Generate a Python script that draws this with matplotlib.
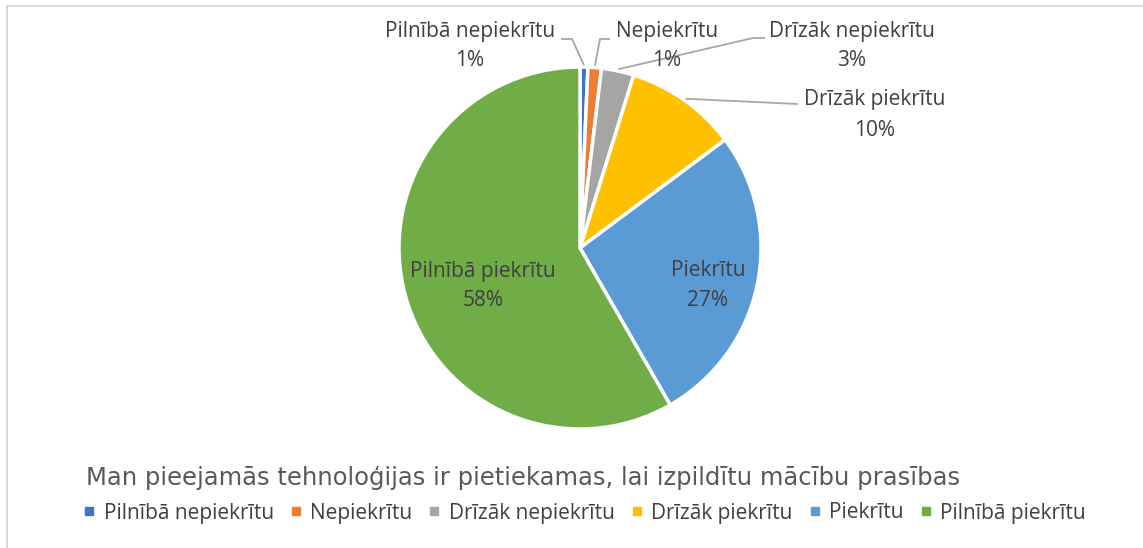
import numpy as np
import matplotlib.pyplot as plt
from matplotlib.lines import Line2D
from matplotlib.patches import Rectangle

# Data (share of answers, %)
categories = ["Pilnībā nepiekrītu", "Nepiekrītu", "Drīzāk nepiekrītu",
              "Drīzāk piekrītu", "Piekrītu", "Pilnībā piekrītu"]
values = [0.7, 1.2, 2.9, 10.0, 26.9, 58.3]
colors = ["#4472C4", "#ED7D31", "#A5A5A5", "#FFC000", "#5B9BD5", "#70AD47"]
title = "Man pieejamās tehnoloģijas ir pietiekamas, lai izpildītu mācību prasības"

W, H = 1143, 548
TXT = "#404040"
LBL_FONT = "Open Sans"

fig = plt.figure(figsize=(W / 100, H / 100), dpi=100)
ax = fig.add_axes([0, 0, 1, 1])

# chart frame (only left/top edges visible in the crop)
ax.add_patch(Rectangle((7, -20), W + 20, H - 6 + 20, fill=False,
                       edgecolor="#D9D9D9", linewidth=1.5))

cx, cy, R = 580, H - 248, 181
wedges, _ = ax.pie(values, colors=colors, startangle=90, counterclock=False,
                   center=(cx, cy), radius=R, frame=True,
                   wedgeprops=dict(edgecolor="white", linewidth=2.5))
ax.set_xlim(0, W)
ax.set_ylim(0, H)
ax.set_aspect("equal")
ax.axis("off")

total = sum(values)
pct = [f"{v / total * 100:.0f}%" for v in values]

# label positions (pixel coords from top) and leader elbows
label_pos = [(470, 31), (667, 31), (852, 31), (875, 100), (708, 271), (483, 271)]
elbows = [[(572, 39), (561, 39)], [(600, 39), (610, 39)],
          [(753, 38), (765, 38)], [(798, 104)], None, None]

for i, w in enumerate(wedges):
    lx, ly = label_pos[i]
    ax.text(lx, H - ly, categories[i], ha="center", va="center", fontsize=15,
            color=TXT, family=LBL_FONT)
    ax.text(lx, H - ly - 30, pct[i], ha="center", va="center", fontsize=15,
            color=TXT, family=LBL_FONT)
    if elbows[i]:
        mid = np.deg2rad((w.theta1 + w.theta2) / 2)
        sx, sy = cx + 1.01 * R * np.cos(mid), cy + 1.01 * R * np.sin(mid)
        xs = [sx] + [p[0] for p in elbows[i]]
        ys = [sy] + [H - p[1] for p in elbows[i]]
        ax.plot(xs, ys, color="#A6A6A6", linewidth=1.3, solid_capstyle="butt")

ax.text(86, H - 478, title, ha="left", va="center", fontsize=17.5,
        color="#595959", family="DejaVu Sans")

handles = [Line2D([], [], marker="s", linestyle="none", markersize=6,
                  markerfacecolor=c, markeredgecolor=c) for c in colors]
leg = ax.legend(handles, categories, loc="center left",
                bbox_to_anchor=(83 / W, 1 - 513 / H), ncol=6, frameon=False,
                handlelength=0.6, handletextpad=0.4, columnspacing=0.75,
                borderaxespad=0, borderpad=0,
                prop=dict(family=LBL_FONT, size=15))
for t in leg.get_texts():
    t.set_color(TXT)

fig.savefig("out.png", dpi=100)
